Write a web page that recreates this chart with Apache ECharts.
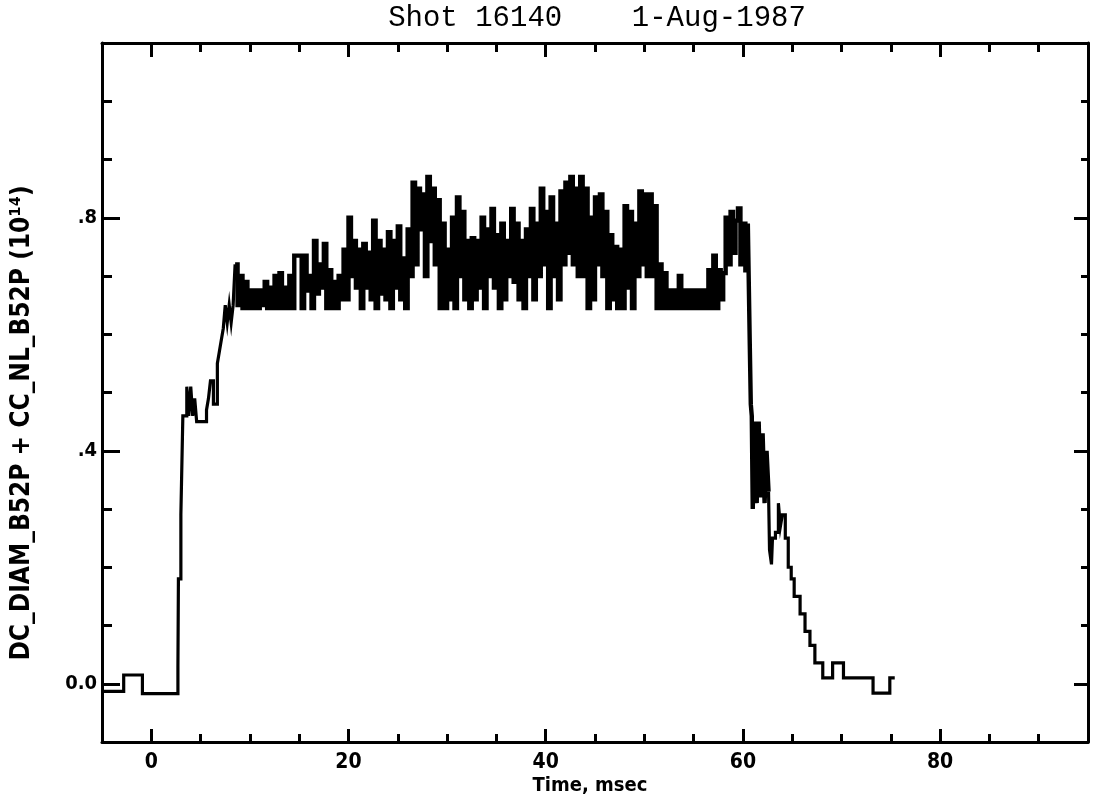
<!DOCTYPE html>
<html>
<head>
<meta charset="utf-8">
<script src="https://cdn.jsdelivr.net/npm/echarts@6/dist/echarts.min.js"></script>
<style>
  html, body { margin: 0; padding: 0; background: #fff; }
  #chart { width: 1095px; height: 798px; }
</style>
</head>
<body>
<div id="chart"></div>
<script>
// ---------------- data ----------------
const titleText = 'Shot 16140    1-Aug-1987';
const xTitle = 'Time, msec';
const yTitle = 'DC_DIAM_B52P + CC_NL_B52P (10\u00B9\u2074)';

// tick positions
const xMinorTicks = [0, 5, 10, 15, 20, 25, 30, 35, 40, 45, 50, 55, 60, 65, 70, 75, 80, 85, 90];
const xMajorTicks = [0, 20, 40, 60, 80];
const yMinorTicks = [0, 0.1, 0.2, 0.3, 0.4, 0.5, 0.6, 0.7, 0.8, 0.9, 1.0];
const yMajorTicks = [0, 0.4, 0.8];

// pre-shot baseline and rise (time in msec, signal in 1e14)
const riseTimes = [-5.0, -2.8, -0.9, 2.7, 2.75, 3.0, 3.2, 3.6, 3.8, 4.0, 4.2, 4.4, 4.6, 5.6, 5.8, 6.0, 6.3, 6.7, 6.9, 7.1, 7.3, 7.5, 7.7, 7.9, 8.1, 8.3];
const riseValues = [-0.013, 0.015, -0.017, 0.03, 0.18, 0.29, 0.46, 0.51, 0.46, 0.51, 0.46, 0.49, 0.45, 0.47, 0.49, 0.52, 0.48, 0.55, 0.57, 0.59, 0.61, 0.65, 0.62, 0.65, 0.62, 0.65];

// noisy flat-top, sampled every 0.25 msec starting at 8.5 msec (one row per msec)
const plateauStart = 8.5;
const plateauStep = 0.25;
const plateauValues = [
  0.72, 0.65, 0.70, 0.645,
  0.69, 0.645, 0.675, 0.645,
  0.675, 0.645, 0.675, 0.65,
  0.69, 0.645, 0.68, 0.645,
  0.70, 0.645, 0.705, 0.645,
  0.68, 0.645, 0.70, 0.645,
  0.735, 0.735, 0.735, 0.645,
  0.735, 0.675, 0.70, 0.645,
  0.76, 0.67, 0.72, 0.68,
  0.755, 0.645, 0.71, 0.645,
  0.69, 0.645, 0.70, 0.66,
  0.745, 0.66, 0.80, 0.70,
  0.76, 0.68, 0.745, 0.645,
  0.755, 0.68, 0.74, 0.66,
  0.795, 0.645, 0.76, 0.67,
  0.745, 0.66, 0.775, 0.645,
  0.76, 0.68, 0.785, 0.66,
  0.73, 0.645, 0.78, 0.70,
  0.86, 0.72, 0.85, 0.78,
  0.84, 0.70, 0.87, 0.76,
  0.85, 0.72, 0.83, 0.645,
  0.79, 0.645, 0.745, 0.66,
  0.80, 0.645, 0.835, 0.70,
  0.81, 0.66, 0.76, 0.645,
  0.765, 0.66, 0.76, 0.68,
  0.80, 0.645, 0.78, 0.70,
  0.815, 0.68, 0.77, 0.645,
  0.79, 0.66, 0.76, 0.70,
  0.815, 0.69, 0.79, 0.66,
  0.76, 0.645, 0.78, 0.70,
  0.815, 0.66, 0.79, 0.70,
  0.85, 0.72, 0.81, 0.645,
  0.835, 0.70, 0.79, 0.66,
  0.845, 0.72, 0.86, 0.74,
  0.87, 0.72, 0.85, 0.70,
  0.87, 0.70, 0.85, 0.645,
  0.80, 0.66, 0.835, 0.72,
  0.84, 0.70, 0.81, 0.645,
  0.77, 0.66, 0.75, 0.645,
  0.745, 0.645, 0.82, 0.68,
  0.81, 0.645, 0.79, 0.70,
  0.845, 0.72, 0.84, 0.70,
  0.84, 0.70, 0.82, 0.645,
  0.72, 0.645, 0.705, 0.645,
  0.675, 0.645, 0.675, 0.645,
  0.70, 0.645, 0.675, 0.645,
  0.675, 0.645, 0.675, 0.645,
  0.675, 0.645, 0.675, 0.645,
  0.71, 0.645, 0.735, 0.645,
  0.71, 0.66, 0.705, 0.80,
  0.72, 0.81, 0.74, 0.795,
  0.816, 0.72, 0.79, 0.71,
  0.79
];

// fast drop with its noisy blob
const dropTimes = [60.7, 60.8, 60.9, 61.0, 61.2, 61.4, 61.6, 61.8, 62.0, 62.2, 62.4, 62.6];
const dropValues = [0.58, 0.48, 0.46, 0.30, 0.45, 0.31, 0.45, 0.32, 0.43, 0.31, 0.40, 0.33];

// ramp-down tail
const decayTimes = [62.7, 62.9, 63.0, 63.3, 63.6, 63.8, 64.0, 64.3, 64.6, 64.9, 65.2, 65.8, 66.3, 66.8, 67.3, 68.1, 69.1, 70.2, 73.2, 74.9, 75.4];
const decayValues = [0.23, 0.205, 0.25, 0.26, 0.31, 0.27, 0.29, 0.25, 0.20, 0.18, 0.15, 0.12, 0.09, 0.066, 0.036, 0.01, 0.036, 0.01, -0.016, 0.01, 0.01];

// ---------------- build ----------------
const riseData = riseTimes.map((t, i) => [t, riseValues[i]]);
const noisyData = plateauValues.map((v, i) => [plateauStart + i * plateauStep, v])
  .concat(dropTimes.map((t, i) => [t, dropValues[i]]));
const decayData = decayTimes.map((t, i) => [t, decayValues[i]]);
// join the pieces so the trace stays continuous
riseData.push(noisyData[0]);
decayData.unshift(noisyData[noisyData.length - 1]);

const BLACK = '#000';
const labelFont = '"DejaVu Sans Condensed", "Liberation Sans Narrow", "DejaVu Sans", sans-serif';
const monoFont = '"Liberation Mono", "DejaVu Sans Mono", monospace';

function xAx(position, tickVals, len, withLine, withLabels) {
  return {
    type: 'value', min: -5, max: 95, position: position,
    axisLine: { show: withLine, onZero: false, lineStyle: { color: BLACK, width: 3 } },
    axisTick: { show: true, inside: true, length: len, customValues: tickVals,
                lineStyle: { color: BLACK, width: 3 } },
    axisLabel: withLabels ? {
      show: true, customValues: xMajorTicks, margin: 10,
      color: BLACK, fontSize: 21, fontWeight: 'bold', fontFamily: labelFont,
      formatter: v => String(Math.round(v))
    } : { show: false },
    splitLine: { show: false }
  };
}
function yAx(position, tickVals, len, withLine, withLabels) {
  return {
    type: 'value', min: -0.1, max: 1.1, position: position,
    axisLine: { show: withLine, onZero: false, lineStyle: { color: BLACK, width: 3 } },
    axisTick: { show: true, inside: true, length: len, customValues: tickVals,
                lineStyle: { color: BLACK, width: 3 } },
    axisLabel: withLabels ? {
      show: true, customValues: yMajorTicks, margin: 5,
      color: BLACK, fontSize: 20, fontWeight: 'bold', fontFamily: labelFont,
      formatter: v => (Math.abs(v) < 1e-9 ? '0.0' : '.' + Math.round(v * 10))
    } : { show: false },
    splitLine: { show: false }
  };
}
function trace(data, width) {
  return {
    type: 'line', xAxisIndex: 0, yAxisIndex: 0, data: data,
    step: 'end', showSymbol: false, symbol: 'none',
    lineStyle: { color: BLACK, width: width, join: 'miter' }, clip: true
  };
}

const chart = echarts.init(document.getElementById('chart'), null, { renderer: 'canvas' });
chart.setOption({
  animation: false,
  backgroundColor: '#fff',
  grid: { left: 102, right: 7, top: 43, bottom: 56, containLabel: false },
  xAxis: [
    xAx('bottom', xMinorTicks, 8, true, true),
    xAx('bottom', xMajorTicks, 13, false, false),
    xAx('top', xMinorTicks, 9, true, false),
    xAx('top', xMajorTicks, 14, false, false)
  ],
  yAxis: [
    yAx('left', yMinorTicks, 10, true, true),
    yAx('left', yMajorTicks, 18, false, false),
    yAx('right', yMinorTicks, 7, true, false),
    yAx('right', yMajorTicks, 14, false, false)
  ],
  series: [
    trace(riseData, 3.2),
    trace(noisyData, 4.4),
    trace(decayData, 3.2)
  ],
  graphic: [
    { type: 'text', x: 597, y: 18,
      style: { text: titleText, font: '29px ' + monoFont, fill: BLACK,
               textAlign: 'center', textVerticalAlign: 'middle' } },
    { type: 'text', x: 590, y: 786,
      style: { text: xTitle, font: 'bold 20px ' + labelFont, fill: BLACK,
               textAlign: 'center', textVerticalAlign: 'middle' } },
    { type: 'text', x: 22, y: 423, rotation: Math.PI / 2,
      style: { text: yTitle, font: 'bold 26px ' + labelFont, fill: BLACK,
               textAlign: 'center', textVerticalAlign: 'middle' } }
  ]
});
</script>
</body>
</html>
